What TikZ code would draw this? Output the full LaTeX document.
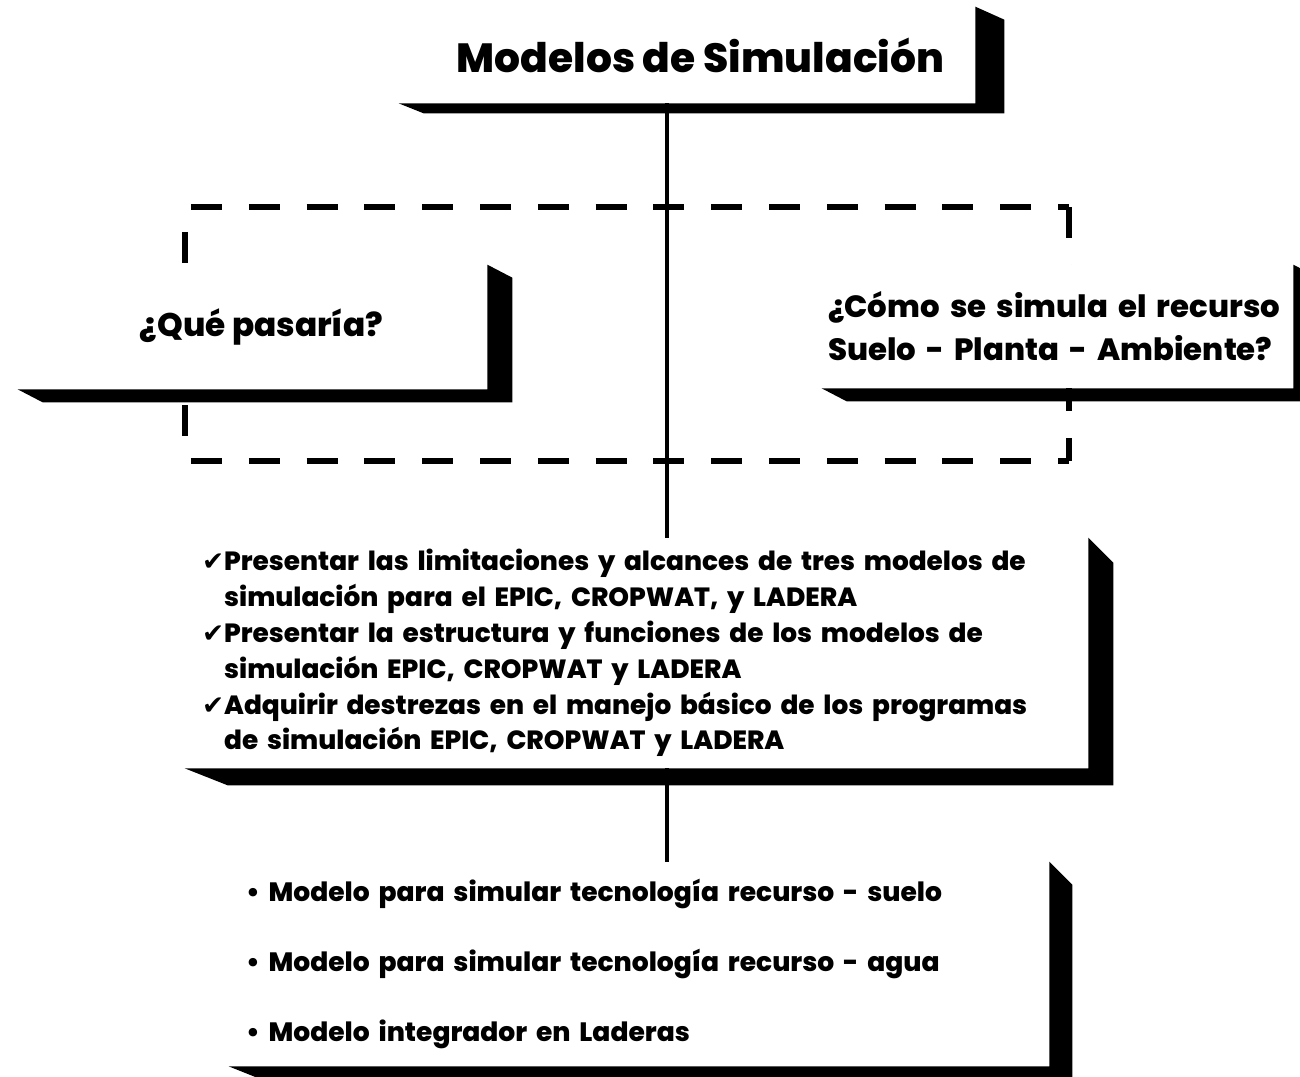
\documentclass[tikz,border=0pt]{standalone}
\usepackage{fontspec}
\setmainfont{Poppins}[BoldFont={Poppins ExtraBold}]
\newfontfamily\chkfont{DejaVu Sans}
\usepackage{tikz}
\usetikzlibrary{calc, positioning}

\newcommand{\okmark}{{\chkfont\char"2714}}

\begin{document}
\begin{tikzpicture}[x=0.02cm, y=-0.02cm,
	slab/.style={shape=rectangle, fill=white, inner sep=0pt},
	shade/.style={fill=black},
	trunk/.style={line width=2.8pt},
	dashframe/.style={line width=3.4pt, dash pattern=on 17.6pt off 15.3pt}]
	\useasboundingbox (0, 0) rectangle (1300, 1076);
	\clip (0, 0) rectangle (1300, 1076);

	\coordinate (F1) at (185, 207);
	\coordinate (F2) at (1069, 461);
	\coordinate (axis) at (667, 0);
	\draw[dashframe, dash phase=29.5pt] (F1) -- (F1 -| F2);
	\draw[dashframe, dash phase=29.5pt] (F1 |- F2) -- (F2);
	\draw[dashframe, dash phase=18.7pt] (F1) -- (F1 |- F2);
	\draw[dashframe] (F1 -| F2) -- (F2);

	\node[slab, minimum width=11.52cm, minimum height=1.92cm, font=\bfseries\fontsize{23.2}{27}\selectfont] (T) at (687, 55) {\hspace*{0.54cm}Modelos de Simulación};
	\node[slab, minimum width=9.38cm, minimum height=2.48cm, font=\bfseries\fontsize{18.6}{24.4}\selectfont] (Q) at (252.5, 327) {\hspace*{0.36cm}¿Qué pasaría?};
	\node[slab, minimum width=9.42cm, minimum height=2.46cm, inner xsep=0.12cm, text width=9.18cm, align=left, font=\bfseries\fontsize{17.5}{24.4}\selectfont] (C) at (1057.5, 326.5) {¿Cómo se simula el recurso\\Suelo - Planta - Ambiente?};
	\node[slab, minimum width=18.06cm, minimum height=4.6cm, inner xsep=0.34cm, text width=17.38cm, align=left, font=\bfseries\fontsize{15}{20.4}\selectfont] (O) at (636.5, 653) {\okmark Presentar las limitaciones y alcances de tres modelos de\\
		\hphantom{\okmark}simulación para el EPIC, CROPWAT, y LADERA\\
		\okmark Presentar la estructura y funciones de los modelos de\\
		\hphantom{\okmark}simulación EPIC, CROPWAT y LADERA\\
		\okmark Adquirir destrezas en el manejo básico de los programas\\
		\hphantom{\okmark}de simulación EPIC, CROPWAT y LADERA};
	\node[slab, minimum width=16.4cm, minimum height=4.08cm, inner xsep=0.34cm, text width=15.72cm, align=left, font=\bfseries\fontsize{15.1}{40}\selectfont] (B) at (639, 964) {• Modelo para simular tecnología recurso - suelo\\
		• Modelo para simular tecnología recurso - agua\\
		• Modelo integrador en Laderas};

	\fill[shade] (T.south west) -- ++(25, 10) -- ($(T.south east)+(29, 10)$) -- ($(T.north east)+(29, 13)$) -- (T.north east) -- (T.south east) -- cycle;
	\fill[shade] (Q.south west) -- ++(25, 13) -- ($(Q.south east)+(25, 13)$) -- ($(Q.north east)+(25, 13)$) -- (Q.north east) -- (Q.south east) -- cycle;
	\fill[shade] (C.south west) -- ++(25, 13) -- ($(C.south east)+(25, 13)$) -- ($(C.north east)+(25, 13)$) -- (C.north east) -- (C.south east) -- cycle;
	\fill[shade] (O.south west) -- ++(43, 17) -- ($(O.south east)+(25, 17)$) -- ($(O.north east)+(25, 25)$) -- (O.north east) -- (O.south east) -- cycle;
	\fill[shade] (B.south west) -- ++(30, 12) -- ($(B.south east)+(23, 12)$) -- ($(B.north east)+(23, 23)$) -- (B.north east) -- (B.south east) -- cycle;

	\draw[trunk] (T.south -| axis) -- (O.north -| axis);
	\draw[trunk] (O.south -| axis) -- (B.north -| axis);

\end{tikzpicture}
\end{document}
